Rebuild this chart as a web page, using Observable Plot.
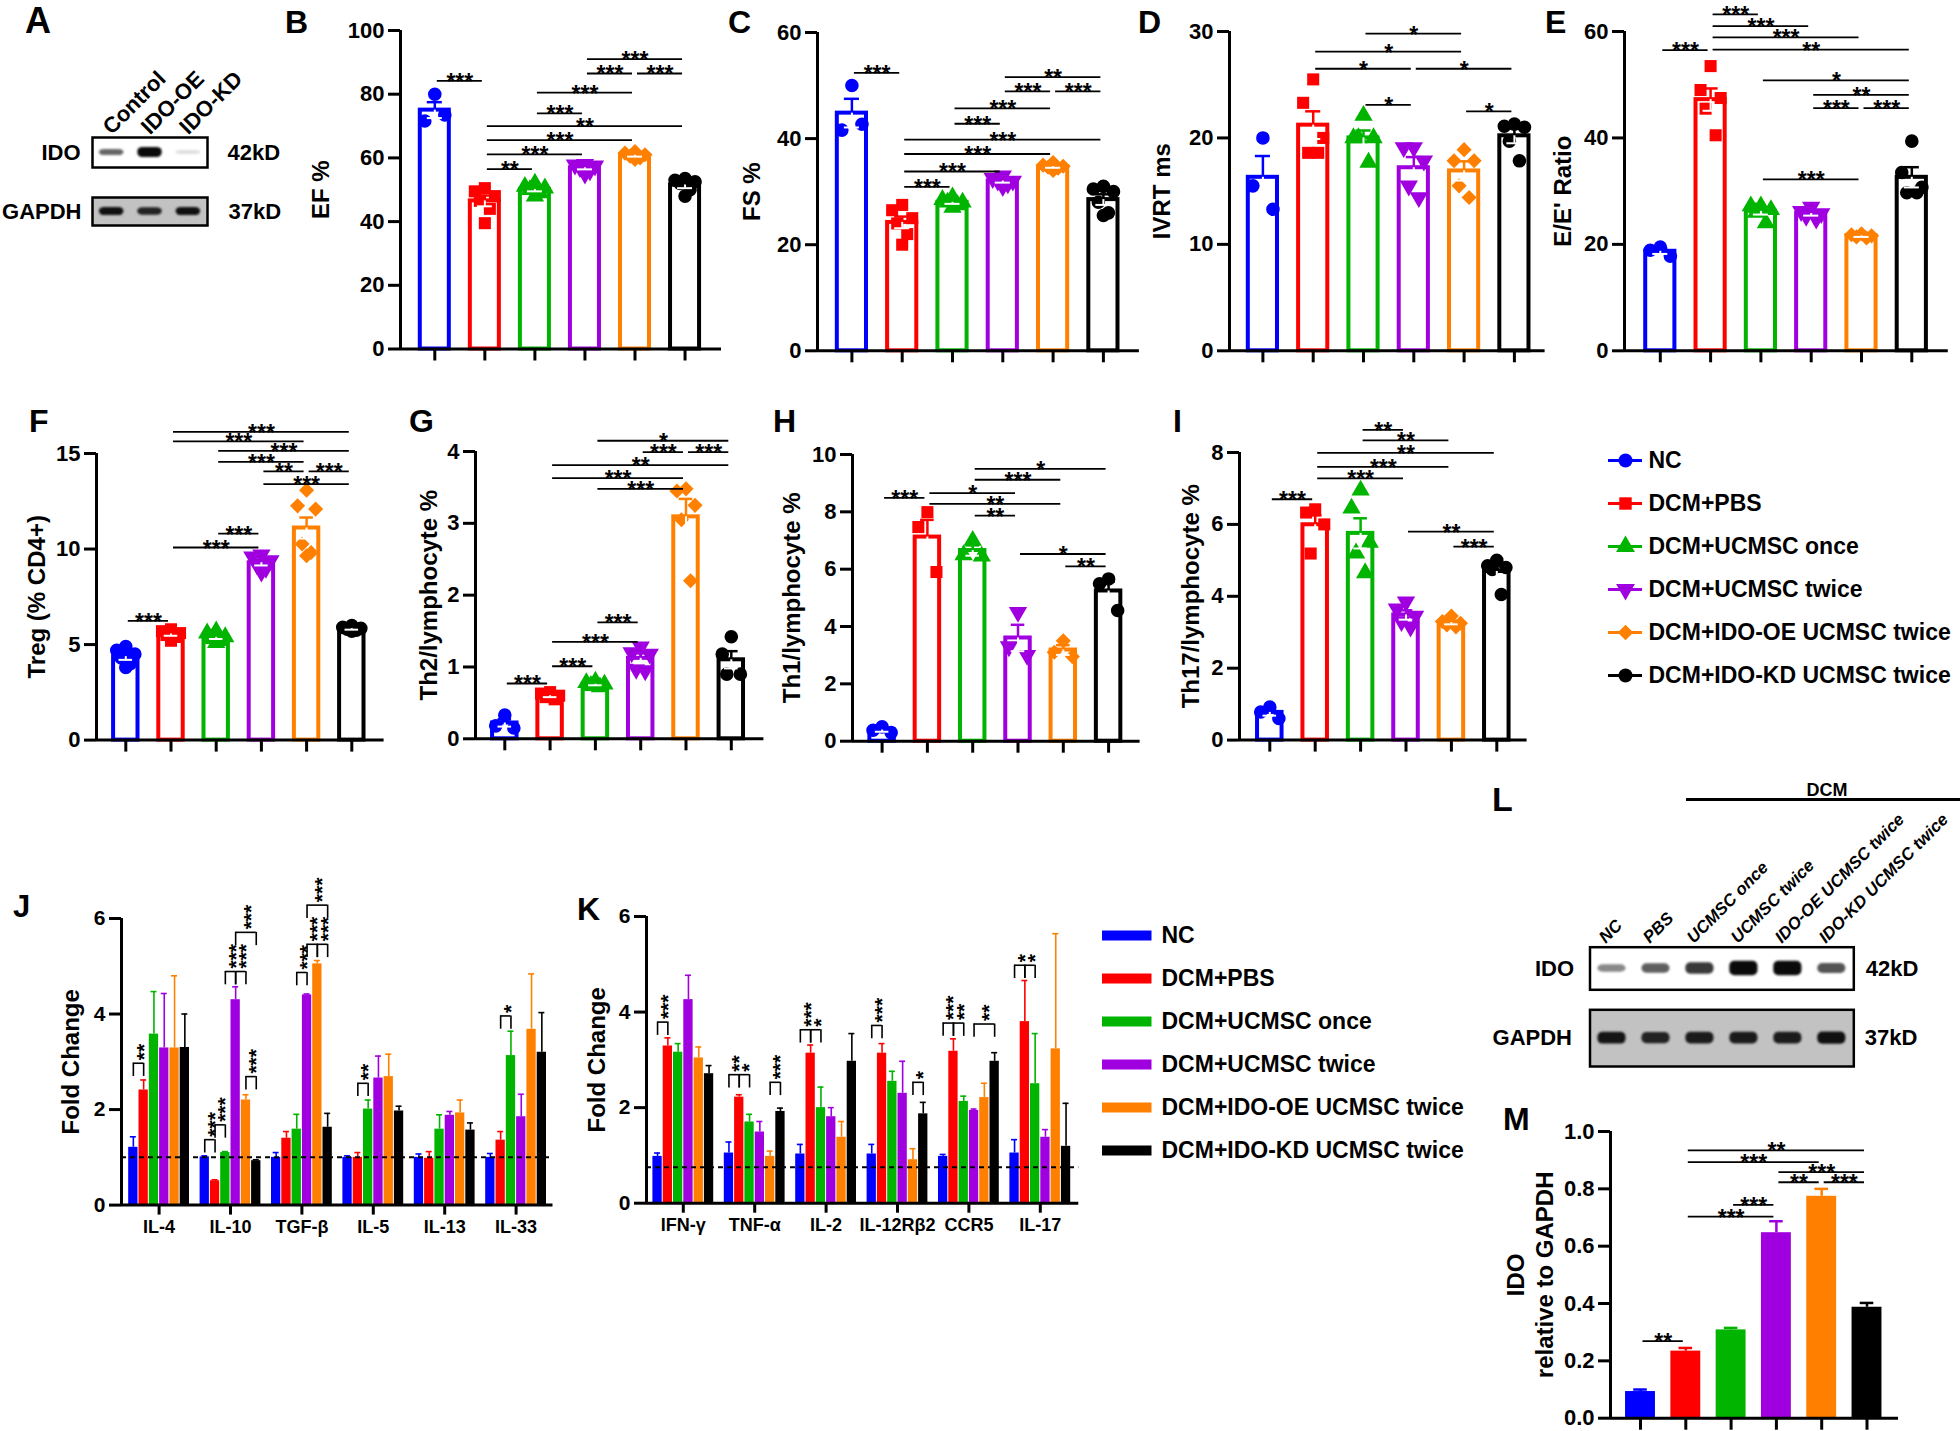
<!DOCTYPE html>
<html>
<head>
<meta charset="utf-8">
<script src="https://cdn.jsdelivr.net/npm/d3@7"></script>
<script src="https://cdn.jsdelivr.net/npm/@observablehq/plot@0.6"></script>
<style>
  body { margin: 0; background: #fff; }
  #fig { position: relative; width: 1960px; height: 1431px; background: #fff; overflow: hidden; }
</style>
</head>
<body>
<div id="fig"></div>
<script>
// ---------------- DATA ----------------
const groups = ["NC", "DCM+PBS", "DCM+UCMSC once", "DCM+UCMSC twice", "DCM+IDO-OE UCMSC twice", "DCM+IDO-KD UCMSC twice"];
const groupColors = ["#0000ff", "#ff0000", "#00b400", "#a000e0", "#ff8000", "#000000"];

// B: EF %
const efPoints = [[80, 71.6, 73.5], [50.5, 49.5, 48, 46.5, 44, 39.5], [52, 51, 50.5, 50, 49, 48], [58, 57.8, 57.5, 57, 56, 55], [62, 61.5, 61, 60.5, 60, 59.5], [53.5, 53, 52.5, 52, 50, 48]];
const efMean = [75.0, 46.5, 50.1, 56.9, 60.8, 51.5];
const efSem = [2.5, 1.7, 0.6, 0.5, 0.4, 1.0];
const efSig = [[0,1,84.2,"***"],[1,2,56.5,"**"],[1,3,61.1,"***"],[1,4,65.6,"***"],[1,5,70.0,"**"],[2,3,74.0,"***"],[2,4,80.5,"***"],[3,4,86.5,"***"],[4,5,86.5,"***"],[3,5,91.0,"***"]];

// C: FS %
const fsPoints = [[50, 41.6, 42.7], [27.5, 26.5, 25, 24, 22, 20], [29, 28.5, 28, 28, 27.5, 27], [33, 32.5, 32, 32, 31.5, 31], [35.5, 35, 34.8, 34.6, 34.4, 34], [31, 30.5, 30, 28, 26, 25.5]];
const fsMean = [44.8, 24.2, 28.0, 32.0, 34.7, 28.5];
const fsSem = [2.7, 1.1, 0.3, 0.3, 0.2, 1.0];
const fsSig = [[0,1,52.4,"***"],[1,2,30.9,"***"],[1,3,33.8,"***"],[1,4,37.1,"***"],[1,5,39.8,"***"],[2,3,42.8,"***"],[2,4,45.7,"***"],[3,4,48.9,"***"],[4,5,48.9,"***"],[3,5,51.6,"**"]];

// D: IVRT ms
const ivrtPoints = [[20, 15.5, 13.3], [25.5, 23.3, 20, 18.6, 18.6], [22.1, 20, 20, 20, 17.7], [19.1, 19.1, 17.85, 15.5, 14.4], [18.9, 17.85, 17.85, 15.5, 14.4], [21.3, 21.1, 21, 19.7, 17.85]];
const ivrtMean = [16.3, 21.2, 20.0, 17.2, 16.9, 20.2];
const ivrtSem = [2.0, 1.3, 0.7, 1.0, 0.9, 0.7];
const ivrtSig = [[2,4,29.8,"*"],[1,4,28.1,"*"],[1,3,26.5,"*"],[3,5,26.5,"*"],[2,3,23.1,"*"],[4,5,22.5,"*"]];

// E: E/E' ratio
const eePoints = [[19.5, 18.9, 17.8], [53.5, 49, 47.5, 45.5, 40.5], [27.2, 27.2, 26.5, 26, 24], [27, 26.2, 25.8, 25.3, 24.8], [22, 21.8, 21.6, 21.4, 21.2], [39.4, 33.5, 30.7, 29.7, 29.7]];
const eeMean = [18.7, 47.2, 26.2, 25.8, 21.6, 32.6];
const eeSem = [0.5, 2.1, 0.6, 0.4, 0.2, 1.9];
const eeSig = [[0,1,56.5,"***"],[1,2,63.2,"***"],[1,3,61.0,"***"],[1,4,58.9,"***"],[1,5,56.6,"**"],[2,5,50.8,"*"],[3,5,48.1,"**"],[3,4,45.6,"***"],[4,5,45.6,"***"],[2,4,32.2,"***"]];

// F: Treg
const tregPoints = [[4.9, 4.7, 4.5, 4.3, 4.0, 3.8], [5.8, 5.7, 5.6, 5.5, 5.4, 5.2], [5.7, 5.6, 5.4, 5.3, 5.2, 5.1], [9.7, 9.6, 9.4, 9.2, 9.0, 8.8], [13.08, 12.26, 12.09, 10.26, 9.82, 9.65], [6.0, 5.9, 5.85, 5.8, 5.75, 5.7]];
const tregMean = [4.37, 5.55, 5.38, 9.28, 11.1, 5.83];
const tregSem = [0.17, 0.09, 0.09, 0.14, 0.55, 0.05];
const tregSig = [[0,1,6.24,"***"],[1,3,10.08,"***"],[2,3,10.81,"***"],[3,5,13.4,"***"],[3,4,14.06,"**"],[4,5,14.06,"***"],[2,4,14.56,"***"],[2,5,15.14,"***"],[1,4,15.63,"***"],[1,5,16.13,"***"]];

// G: Th2
const th2Points = [[0.33, 0.18, 0.15], [0.65, 0.63, 0.6, 0.58, 0.55], [0.8, 0.78, 0.76, 0.74, 0.72], [1.28, 1.2, 1.18, 0.97, 0.95], [3.48, 3.45, 3.25, 3.05, 2.2], [1.42, 1.18, 0.9, 0.9]];
const th2Mean = [0.22, 0.6, 0.76, 1.12, 3.09, 1.1];
const th2Sem = [0.05, 0.02, 0.015, 0.07, 0.25, 0.12];
const th2Sig = [[0,1,0.77,"***"],[1,2,1.01,"***"],[1,3,1.35,"***"],[2,3,1.62,"***"],[2,4,3.48,"***"],[1,4,3.63,"***"],[1,5,3.81,"**"],[3,4,3.99,"***"],[4,5,3.99,"***"],[2,5,4.15,"*"]];

// H: Th1
const th1Points = [[0.5, 0.38, 0.3], [7.99, 7.47, 5.9], [7.0, 6.5, 6.45], [4.5, 3.3, 3.0], [3.5, 3.1, 2.95], [5.66, 5.49, 4.56]];
const th1Mean = [0.39, 7.12, 6.65, 3.6, 3.18, 5.24];
const th1Sem = [0.06, 0.6, 0.18, 0.46, 0.17, 0.33];
const th1Sig = [[0,1,8.49,"***"],[1,3,8.65,"*"],[1,4,8.28,"**"],[2,5,9.5,"*"],[2,4,9.12,"***"],[2,3,7.87,"**"],[3,5,6.53,"*"],[4,5,6.1,"**"]];

// I: Th17
const th17Points = [[0.92, 0.78, 0.6], [6.42, 6.33, 6.0, 5.19], [6.95, 6.45, 5.5, 5.2, 4.65], [3.85, 3.65, 3.45, 3.3, 3.15], [3.45, 3.3, 3.25, 3.2, 3.15], [5.0, 4.85, 4.8, 4.75, 4.05]];
const th17Mean = [0.77, 5.99, 5.75, 3.48, 3.27, 4.69];
const th17Sem = [0.09, 0.26, 0.42, 0.13, 0.05, 0.18];
const th17Sig = [[0,1,6.7,"***"],[1,3,7.28,"***"],[1,4,7.6,"***"],[1,5,7.99,"**"],[2,4,8.34,"**"],[2,3,8.63,"**"],[3,5,5.8,"**"],[4,5,5.38,"***"]];

// M: IDO relative to GAPDH
const idoRelMean = [0.093, 0.234, 0.308, 0.647, 0.774, 0.387];
const idoRelSem = [0.007, 0.011, 0.007, 0.04, 0.026, 0.015];
const idoRelSig = [[0,1,0.269,"**"],[1,3,0.703,"***"],[2,3,0.744,"***"],[3,4,0.823,"**"],[4,5,0.823,"***"],[3,5,0.858,"***"],[1,4,0.893,"***"],[1,5,0.934,"**"]];

// J: fold change (rows = groups, cols = cytokines)
const jCats = ["IL-4", "IL-10", "TGF-β", "IL-5", "IL-13", "IL-33"];
const jValues = [
  [1.21, 1.01, 1.00, 1.00, 1.00, 1.00],
  [2.41, 0.51, 1.40, 1.00, 0.98, 1.36],
  [3.58, 1.10, 1.59, 2.01, 1.59, 3.13],
  [3.29, 4.30, 4.40, 2.66, 1.88, 1.85],
  [3.29, 2.20, 5.05, 2.69, 1.93, 3.68],
  [3.30, 0.93, 1.63, 1.97, 1.57, 3.20]];
const jErr = [
  [0.22, 0.02, 0.10, 0.03, 0.07, 0.08],
  [0.21, 0.02, 0.14, 0.10, 0.14, 0.18],
  [0.89, 0.02, 0.31, 0.19, 0.30, 0.51],
  [1.14, 0.27, 0.02, 0.46, 0.08, 0.47],
  [1.51, 0.11, 0.07, 0.47, 0.27, 1.16],
  [0.70, 0.02, 0.29, 0.10, 0.15, 0.83]];
const jBaseline = 1.0;
const jBrackets = [[0,0,1,2.97,"**"],[1,0,1,1.37,"***"],[1,1,2,1.68,"***"],[1,2,3,4.89,"***"],[1,3,4,4.89,"***"],[1,4,5,2.69,"***"],[1,3,5,5.71,"***"],[2,2,3,4.87,"***"],[2,3,4,5.46,"***"],[2,4,5,5.46,"***"],[2,3,5,6.28,"***"],[3,1,2,2.55,"**"],[5,1,2,3.96,"*"]];

// K: fold change
const kCats = ["IFN-γ", "TNF-α", "IL-2", "IL-12Rβ2", "CCR5", "IL-17"];
const kValues = [
  [0.98, 1.05, 1.03, 1.03, 0.98, 1.05],
  [3.29, 2.22, 3.14, 3.14, 3.18, 3.80],
  [3.16, 1.70, 2.00, 2.55, 2.13, 2.50],
  [4.26, 1.49, 1.81, 2.30, 1.94, 1.38],
  [3.04, 0.98, 1.38, 0.91, 2.21, 3.23],
  [2.71, 1.92, 2.97, 1.87, 2.97, 1.19]];
const kErr = [
  [0.07, 0.23, 0.20, 0.20, 0.04, 0.28],
  [0.17, 0.05, 0.17, 0.20, 0.26, 0.86],
  [0.18, 0.16, 0.43, 0.21, 0.11, 1.05],
  [0.51, 0.22, 0.19, 0.67, 0.03, 0.16],
  [0.23, 0.11, 0.33, 0.23, 0.30, 2.41],
  [0.17, 0.07, 0.58, 0.24, 0.18, 0.90]];
const kBaseline = 0.754;
const kBrackets = [[0,0,1,3.79,"***"],[1,0,1,2.69,"**"],[1,1,2,2.69,"*"],[1,4,5,2.53,"***"],[2,0,1,3.63,"***"],[2,1,2,3.63,"*"],[3,0,1,3.72,"***"],[3,4,5,2.53,"*"],[4,0,1,3.77,"***"],[4,1,2,3.77,"**"],[4,3,5,3.75,"**"],[5,0,1,4.98,"*"],[5,1,2,4.98,"*"]];

// Western blots (relative band intensity 0..1)
const lanesA = ["Control", "IDO-OE", "IDO-KD"];
const idoBandA = [0.45, 1.0, 0.04];
const gapdhBandA = [0.95, 0.8, 0.95];
const lanesL = ["NC", "PBS", "UCMSC once", "UCMSC twice", "IDO-OE UCMSC twice", "IDO-KD UCMSC twice"];
const idoBandL = [0.3, 0.5, 0.7, 1.0, 1.0, 0.55];
const gapdhBandL = [0.9, 0.8, 0.85, 0.85, 0.85, 0.95];

// ---------------- HELPERS ----------------
const fig = document.getElementById("fig");
const FONT = '"Liberation Sans", Arial, Helvetica, sans-serif';
const baseStyle = {fontFamily: FONT, fontWeight: "bold", fontSize: "22px", background: "transparent", overflow: "visible", color: "black"};
const sqrt3 = Math.sqrt(3);
const triangleDown = {draw(ctx, size) { const y = -Math.sqrt(size / (sqrt3 * 3)); ctx.moveTo(0, -y * 2); ctx.lineTo(-sqrt3 * y, y); ctx.lineTo(sqrt3 * y, y); ctx.closePath(); }};
const colorScale = {domain: groups, range: groupColors};
const symbolScale = {domain: groups, range: [d3.symbolCircle, d3.symbolSquare, d3.symbolTriangle, triangleDown, d3.symbolDiamond2 || d3.symbolDiamond, d3.symbolCircle]};
const intFmt = d3.format("d");

function mount(svg, left, top) {
  svg.style.position = "absolute";
  svg.style.left = left + "px";
  svg.style.top = top + "px";
  svg.style.overflow = "visible";
  svg.style.background = "transparent";
  svg.style.maxWidth = "none";
  fig.appendChild(svg);
  return svg;
}

function scatterBar(c) {
  const ml = 110, mt = 80;
  const left = c.ax - ml, top = c.yTop - mt;
  const width = Math.ceil(c.xEnd - left + 14), height = Math.ceil(c.y0 - top + 24);
  const mr = width - ml - (c.xEnd - c.ax), mb = height - mt - (c.y0 - c.yTop);
  const xd = [(c.ax - c.g0) / c.sp, (c.xEnd - c.g0) / c.sp];
  const hw = c.hw, cap = 0.15;
  const bars = groups.map((g, i) => ({g, i, m: c.mean[i], s: c.sem[i]}));
  const spread = [0, -0.2, 0.2, -0.1, 0.1, 0];
  const dots = (c.pts || []).flatMap((arr, i) => arr.map((v, k) => ({g: groups[i], x: i + spread[k % spread.length], v})));
  const marks = [];
  if (c.filled) {
    marks.push(
      Plot.rect(bars, {x1: d => d.i - hw, x2: d => d.i + hw, y1: 0, y2: "m", fill: "g"}),
      Plot.ruleX(bars, {x: "i", y1: "m", y2: d => d.m + d.s, stroke: "g", strokeWidth: 2.5}),
      Plot.ruleY(bars, {x1: d => d.i - cap, x2: d => d.i + cap, y: d => d.m + d.s, stroke: "g", strokeWidth: 2.5})
    );
  } else {
    marks.push(
      Plot.rect(bars, {x1: d => d.i - hw, x2: d => d.i + hw, y1: 0, y2: "m", fill: "white", stroke: "g", strokeWidth: 4}),
      Plot.dot(dots, {x: "x", y: "v", symbol: "g", fill: "g", r: 6.8}),
      Plot.ruleX(bars, {x: "i", y1: "m", y2: d => d.m + d.s, stroke: "g", strokeWidth: 2.5}),
      Plot.ruleY(bars, {x1: d => d.i - cap, x2: d => d.i + cap, y: d => d.m + d.s, stroke: "g", strokeWidth: 2.5}),
      Plot.ruleX(bars, {x: "i", y1: "m", y2: d => d.m - d.s, stroke: "white", strokeWidth: 2}),
      Plot.ruleY(bars, {x1: d => d.i - cap, x2: d => d.i + cap, y: d => d.m - d.s, stroke: "white", strokeWidth: 2})
    );
  }
  marks.push(
    Plot.ruleY([0], {strokeWidth: 3}),
    Plot.ruleX([xd[0]], {y1: 0, y2: c.ymax, strokeWidth: 3}),
    Plot.axisY({ticks: c.yticks, tickSize: 12, tickPadding: 4, strokeWidth: 3, tickFormat: c.fmt || intFmt, fontSize: 22, label: null}),
    Plot.axisX({ticks: d3.range(6), tickSize: 12, strokeWidth: 3, fill: "none", label: null}),
    Plot.ruleY(c.sig, {x1: d => d[0], x2: d => d[1], y: d => d[2], strokeWidth: 1.8, insetLeft: 2.5, insetRight: 2.5}),
    Plot.text(c.sig, {x: d => (d[0] + d[1]) / 2, y: d => d[2], text: d => d[3], lineAnchor: "bottom", dy: 9, fontSize: 23}),
    Plot.text([c.label], {frameAnchor: "left", text: d => d, dx: c.labelCx - c.ax, rotate: -90, textAnchor: "middle", lineAnchor: "middle", fontSize: 24, lineHeight: 1.2})
  );
  const svg = Plot.plot({
    width, height, marginLeft: ml, marginTop: mt, marginRight: mr, marginBottom: mb,
    x: {domain: xd}, y: {domain: [0, c.ymax]},
    color: colorScale, symbol: symbolScale, style: baseStyle, marks
  });
  mount(svg, left, top);
}

function groupedBars(c) {
  const ml = 100, mt = 40;
  const left = c.ax - ml, top = c.yTop - mt;
  const width = Math.ceil(c.xEnd - left + 6), height = Math.ceil(c.y0 - top + 45);
  const mr = width - ml - (c.xEnd - c.ax), mb = height - mt - (c.y0 - c.yTop);
  const xd = [(c.ax - c.c0) / c.sp, (c.xEnd - c.c0) / c.sp];
  const bw = c.barW / c.sp, gap = 0.5 / c.sp, capw = 3 / c.sp;
  const legLen = 13.3 * c.ymax / (c.y0 - c.yTop);
  const pos = (k, s) => k + (s - 2.5) * bw;
  const bars = c.values.flatMap((vals, s) => vals.map((v, k) => ({g: groups[s], x: pos(k, s), v, e: c.errs[s][k]})));
  const legs = c.brackets.flatMap(b => [{x: pos(b[0], b[1]), y: b[3]}, {x: pos(b[0], b[2]), y: b[3]}]);
  const svg = Plot.plot({
    width, height, marginLeft: ml, marginTop: mt, marginRight: mr, marginBottom: mb,
    x: {domain: xd}, y: {domain: [0, c.ymax]},
    color: colorScale, style: baseStyle,
    marks: [
      Plot.rect(bars, {x1: d => d.x - bw / 2 + gap, x2: d => d.x + bw / 2 - gap, y1: 0, y2: "v", fill: "g"}),
      Plot.ruleX(bars, {x: "x", y1: "v", y2: d => d.v + d.e, stroke: "g", strokeWidth: 1.6}),
      Plot.ruleY(bars, {x1: d => d.x - capw, x2: d => d.x + capw, y: d => d.v + d.e, stroke: "g", strokeWidth: 1.6}),
      Plot.ruleY([c.baseline], {strokeWidth: 2, strokeDasharray: "5,4"}),
      Plot.ruleY([0], {strokeWidth: 3}),
      Plot.ruleX([xd[0]], {y1: 0, y2: c.ymax, strokeWidth: 3}),
      Plot.axisY({ticks: [0, 2, 4, 6], tickSize: 12, tickPadding: 4, strokeWidth: 3, tickFormat: intFmt, fontSize: 21, label: null}),
      Plot.axisX({ticks: d3.range(6), tickSize: 10, tickPadding: 5, strokeWidth: 3, tickFormat: i => c.cats[i], fontSize: 18, label: null}),
      Plot.ruleY(c.brackets, {x1: b => pos(b[0], b[1]), x2: b => pos(b[0], b[2]), y: b => b[3], strokeWidth: 1.6}),
      Plot.ruleX(legs, {x: "x", y1: "y", y2: d => d.y - legLen, strokeWidth: 1.6}),
      Plot.text(c.brackets, {x: b => (pos(b[0], b[1]) + pos(b[0], b[2])) / 2, y: b => b[3], text: b => b[4], rotate: -90, textAnchor: "start", lineAnchor: "bottom", dx: 12, dy: -3, fontSize: 21}),
      Plot.text([c.label], {frameAnchor: "left", text: d => d, dx: c.labelCx - c.ax, rotate: -90, textAnchor: "middle", lineAnchor: "middle", fontSize: 24})
    ]
  });
  mount(svg, left, top);
}

function blotRow(o) {
  const [bx0, bx1, by0, by1] = o.box;
  const ml = bx0 - o.left, mr = o.left + o.width - bx1, mt = by0 - o.top, mb = o.top + o.height - by1;
  const n = o.lanes.length;
  const bands = o.values.map((v, i) => ({i, v}));
  const marks = [
    Plot.frame({fill: o.bg, stroke: "black", strokeWidth: 2.5}),
    Plot.rect(bands, {x1: d => d.i + 0.18, x2: d => d.i + 0.82, y1: d => 0.5 - (o.t0 + o.t1 * d.v), y2: d => 0.5 + (o.t0 + o.t1 * d.v), fill: "#0a0a0a", fillOpacity: d => Math.pow(d.v, 0.6), rx: 5}),
    Plot.text([o.name], {frameAnchor: "left", text: d => d, dx: -o.nameGap, textAnchor: "end", fontSize: 22}),
    Plot.text([o.kd], {frameAnchor: "right", text: d => d, dx: o.kdGap, textAnchor: "start", fontSize: 22})
  ];
  if (o.showLanes) marks.push(Plot.text(o.lanes, {x: (d, i) => i + 0.5, y: 1, text: d => d, rotate: -45, textAnchor: "start", dx: o.laneDx, dy: -7, fontSize: o.laneSize, fontStyle: o.italic ? "italic" : "normal"}));
  const svg = Plot.plot({
    width: o.width, height: o.height, marginLeft: ml, marginRight: mr, marginTop: mt, marginBottom: mb,
    x: {domain: [0, n], axis: null}, y: {domain: [0, 1], axis: null}, style: baseStyle, marks
  });
  svg.querySelectorAll('g[aria-label="rect"]').forEach(g => g.style.filter = "blur(1.3px)");
  mount(svg, o.left, o.top);
}

// ---------------- PANELS ----------------
// A blot
blotRow({box: [92, 207, 137, 167], left: 0, top: 40, width: 300, height: 137, bg: "white", lanes: lanesA, values: idoBandA, t0: 0.05, t1: 0.12, name: "IDO", kd: "42kD", nameGap: 12, kdGap: 20, showLanes: true, laneDx: -5, laneSize: 22});
blotRow({box: [92, 207, 197, 225], left: 0, top: 190, width: 300, height: 45, bg: "#c2c2c2", lanes: lanesA, values: gapdhBandA, t0: 0.08, t1: 0.07, name: "GAPDH", kd: "37kD", nameGap: 11, kdGap: 21});

// B-E
scatterBar({label: "EF %", pts: efPoints, mean: efMean, sem: efSem, sig: efSig, ax: 400, xEnd: 721, yTop: 29.5, y0: 348, g0: 434.3, sp: 50.05, ymax: 100, yticks: [0, 20, 40, 60, 80, 100], labelCx: 319, hw: 0.29});
scatterBar({label: "FS %", pts: fsPoints, mean: fsMean, sem: fsSem, sig: fsSig, ax: 816.6, xEnd: 1138.5, yTop: 31.7, y0: 350, g0: 851, sp: 50.3, ymax: 60, yticks: [0, 20, 40, 60], labelCx: 750, hw: 0.29});
scatterBar({label: "IVRT ms", pts: ivrtPoints, mean: ivrtMean, sem: ivrtSem, sig: ivrtSig, ax: 1229, xEnd: 1544.6, yTop: 30.7, y0: 350, g0: 1262.4, sp: 50.3, ymax: 30, yticks: [0, 10, 20, 30], labelCx: 1160.7, hw: 0.29});
scatterBar({label: "E/E' Ratio", pts: eePoints, mean: eeMean, sem: eeSem, sig: eeSig, ax: 1624.2, xEnd: 1948, yTop: 30.7, y0: 350, g0: 1660, sp: 50.3, ymax: 60, yticks: [0, 20, 40, 60], labelCx: 1561, hw: 0.29});
// F-I
scatterBar({label: "Treg (% CD4+)", pts: tregPoints, mean: tregMean, sem: tregSem, sig: tregSig, ax: 96.4, xEnd: 384, yTop: 452.7, y0: 739.3, g0: 125.7, sp: 45.2, ymax: 15, yticks: [0, 5, 10, 15], labelCx: 35.7, hw: 0.27});
scatterBar({label: "Th2/lymphocyte %", pts: th2Points, mean: th2Mean, sem: th2Sem, sig: th2Sig, ax: 475, xEnd: 763.4, yTop: 451, y0: 738.3, g0: 504.3, sp: 45.3, ymax: 4, yticks: [0, 1, 2, 3, 4], labelCx: 426.8, hw: 0.27});
scatterBar({label: "Th1/lymphocyte %", pts: th1Points, mean: th1Mean, sem: th1Sem, sig: th1Sig, ax: 852.4, xEnd: 1140, yTop: 454, y0: 740.7, g0: 882, sp: 45.3, ymax: 10, yticks: [0, 2, 4, 6, 8, 10], labelCx: 791, hw: 0.27});
scatterBar({label: "Th17/lymphocyte %", pts: th17Points, mean: th17Mean, sem: th17Sem, sig: th17Sig, ax: 1239.4, xEnd: 1527, yTop: 451.7, y0: 739.3, g0: 1269.7, sp: 45.4, ymax: 8, yticks: [0, 2, 4, 6, 8], labelCx: 1189.7, hw: 0.27});
// M
scatterBar({label: "IDO\nrelative to GAPDH", filled: true, mean: idoRelMean, sem: idoRelSem, sig: idoRelSig, ax: 1610, xEnd: 1898, yTop: 1131, y0: 1417.7, g0: 1640, sp: 45.3, ymax: 1, yticks: [0, 0.2, 0.4, 0.6, 0.8, 1.0], fmt: d3.format(".1f"), labelCx: 1529, hw: 0.33});

// J, K
groupedBars({label: "Fold Change", cats: jCats, values: jValues, errs: jErr, brackets: jBrackets, baseline: jBaseline, ax: 121.4, xEnd: 552.9, yTop: 917.7, y0: 1204.3, c0: 159, sp: 71.4, barW: 10.3, ymax: 6, labelCx: 71.4});
groupedBars({label: "Fold Change", cats: kCats, values: kValues, errs: kErr, brackets: kBrackets, baseline: kBaseline, ax: 645.7, xEnd: 1078, yTop: 916, y0: 1202.7, c0: 682.5, sp: 71.4, barW: 10.3, ymax: 6, labelCx: 596.8});

// L blot
blotRow({box: [1589.5, 1853.3, 946.7, 989.3], left: 1480, top: 820, width: 470, height: 180, bg: "white", lanes: lanesL, values: idoBandL, t0: 0.05, t1: 0.12, name: "IDO", kd: "42kD", nameGap: 16, kdGap: 12, showLanes: true, laneDx: -10, laneSize: 17, italic: true});
blotRow({box: [1589.5, 1853.3, 1009.3, 1066], left: 1480, top: 1000, width: 470, height: 76, bg: "#c2c2c2", lanes: lanesL, values: gapdhBandL, t0: 0.06, t1: 0.05, name: "GAPDH", kd: "37kD", nameGap: 18, kdGap: 11});

// Legends
mount(Plot.plot({
  width: 360, height: 260, margin: 0,
  x: {domain: [0, 1], range: [8, 42], axis: null},
  y: {type: "point", domain: groups, range: [20, 235], padding: 0, axis: null},
  color: colorScale, symbol: symbolScale, style: baseStyle,
  marks: [
    Plot.ruleY(groups, {y: d => d, x1: 0, x2: 1, stroke: d => d, strokeWidth: 3}),
    Plot.dot(groups, {x: 0.5, y: d => d, symbol: d => d, fill: d => d, r: 7}),
    Plot.text(groups, {x: 1, y: d => d, text: d => d, textAnchor: "start", dx: 6, fontSize: 23})
  ]
}), 1600, 440);

mount(Plot.plot({
  width: 380, height: 250, margin: 0,
  x: {domain: [0, 1], range: [2, 51.5], axis: null},
  y: {type: "point", domain: groups, range: [14, 230], padding: 0, axis: null},
  color: colorScale, style: baseStyle,
  marks: [
    Plot.ruleY(groups, {y: d => d, x1: 0, x2: 1, stroke: d => d, strokeWidth: 10}),
    Plot.text(groups, {x: 1, y: d => d, text: d => d, textAnchor: "start", dx: 9.5, fontSize: 23})
  ]
}), 1100, 920);

// Panel letters and L header
const ov = d3.create("svg").attr("width", 1960).attr("height", 1431)
  .style("position", "absolute").style("left", "0px").style("top", "0px").style("pointer-events", "none")
  .style("font-family", FONT).style("font-weight", "bold");
const letters = [["A", 25, 33, 36], ["B", 285, 33, 32], ["C", 728, 33, 32], ["D", 1138, 33, 32], ["E", 1545, 33, 32],
  ["F", 29, 432, 32], ["G", 409, 432, 32], ["H", 773, 432, 32], ["I", 1173, 432, 32],
  ["J", 13, 917, 31], ["K", 577, 920, 32], ["L", 1492, 811, 34], ["M", 1503, 1130, 32]];
ov.selectAll("text.letter").data(letters).join("text").attr("class", "letter")
  .attr("x", d => d[1]).attr("y", d => d[2]).attr("font-size", d => d[3]).text(d => d[0]);
ov.append("line").attr("x1", 1686).attr("x2", 1960).attr("y1", 799.5).attr("y2", 799.5).attr("stroke", "black").attr("stroke-width", 3);
ov.append("text").attr("x", 1827).attr("y", 796).attr("text-anchor", "middle").attr("font-size", 18).text("DCM");
fig.appendChild(ov.node());
</script>
</body>
</html>
